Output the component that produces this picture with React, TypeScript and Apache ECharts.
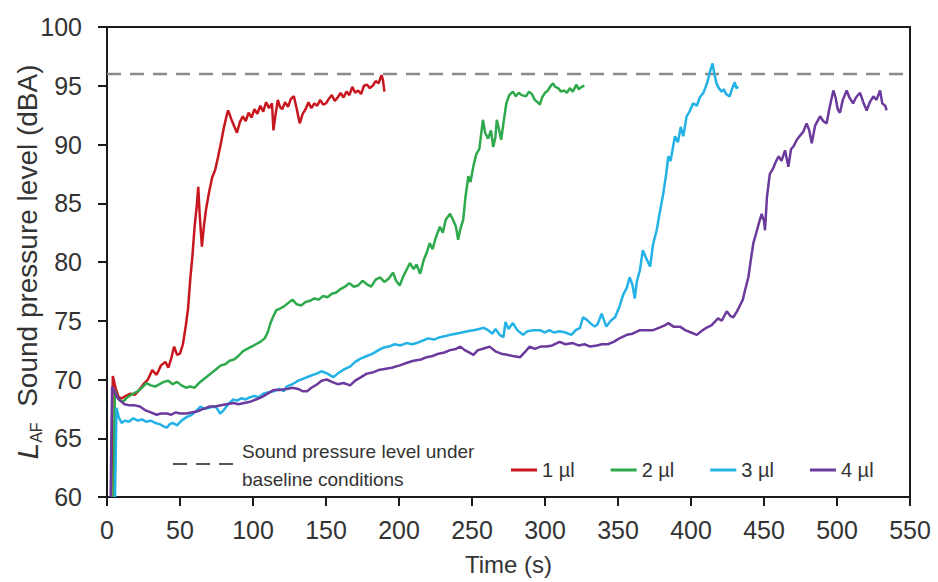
import React, { useEffect, useRef } from "react";
import * as echarts from "echarts";

const seriesNames = ["1 µl", "2 µl", "3 µl", "4 µl"];
const seriesColors = ["#c8161e", "#2eaa4c", "#23b1e6", "#6b3a9c"];
const baselineLevel = 96;
const baselineLabel = ["Sound pressure level under", "baseline conditions"];

const red1: [number, number][] = [[3,60],[3.5,66],[4,70.3],[6,69.2],[8,68.5],[10,68.4],[13,68.6],[16,68.8],[19,68.7],[22,69.1],[25,69.6],[28,70.0],[31,70.8],[34,70.4],[37,71.2],[40,71.5],[42,71.0],[44,71.8],[46,72.8],[48,72.1],[50,72.2],[52,73.0],[54,74.6],[55.5,76.0],[57,78.5],[58.5,80.5],[60,83.0],[61.5,84.8],[62.5,86.4],[63.5,84.0],[65,81.3],[66.5,83.2],[68,84.6],[70,86.0],[72,87.2],[74,87.8],[76,88.9],[78,90.1],[80,91.4],[82,92.5],[83,92.9],[85,92.2],[87,91.6],[89,91.0],[91,91.9],[93,92.4],[95,92.0],[97,92.7],[99,92.3],[101,93.0],[103,92.6],[105,93.3],[107,92.8],[109,93.6],[111,93.1],[113,93.5],[114,91.2],[115.5,92.6],[117,93.8],[118.5,93.2],[120,93.0],[122,93.6],[124,93.2],[126,93.9],[128,94.1],[130,93.0],[132,91.8],[134,92.6],[136,93.0],[138,93.6],[140,93.1],[142,93.5],[144,93.3],[146,93.8],[148,93.4],[150,93.5],[152,93.9],[154,94.2],[156,93.7],[158,94.0],[160,94.4],[162,94.0],[164,94.5],[166,94.2],[168,94.9],[170,94.4],[172,94.6],[174,94.3],[176,95.0],[178,95.1],[180,94.8],[182,95.0],[184,95.4],[186,95.2],[188,95.9],[189,95.5],[190,94.5]];

const green2: [number, number][] = [[4.5,60],[5,66],[5.5,69.0],[8,68.3],[11,68.1],[14,68.5],[18,68.8],[21,69.0],[24,69.3],[27,69.7],[30,69.5],[33,69.4],[36,69.6],[39,69.8],[42,69.9],[45,69.6],[48,69.8],[51,69.5],[54,69.3],[57,69.4],[60,69.3],[63,69.7],[66,70.0],[69,70.3],[72,70.6],[75,70.9],[78,71.2],[81,71.3],[84,71.6],[87,71.7],[90,72.0],[93,72.4],[96,72.6],[99,72.8],[102,73.0],[105,73.2],[108,73.5],[110,74.0],[112,74.8],[114,75.4],[116,75.9],[118,76.0],[121,76.2],[124,76.5],[127,76.8],[130,76.4],[133,76.3],[136,76.6],[139,76.7],[142,76.9],[145,76.8],[148,77.1],[151,77.0],[154,77.3],[157,77.4],[160,77.7],[163,77.9],[166,78.2],[169,77.9],[172,78.0],[175,78.4],[178,78.1],[181,77.9],[184,78.5],[187,78.7],[190,78.3],[193,78.6],[196,79.1],[198,78.4],[200.5,78.0],[203,78.8],[205,79.3],[207.5,79.9],[210,79.4],[212,79.8],[214.5,79.0],[217,80.2],[219,80.8],[221,81.6],[223,81.1],[225,82.0],[228,83.0],[230,82.5],[232,83.6],[235,84.1],[237,83.6],[239,83.0],[240.5,81.9],[242,82.8],[244,83.6],[245.5,85.5],[247.5,87.3],[249,86.8],[251,88.2],[253,89.2],[255,89.6],[257.5,92.1],[259,91.0],[261,90.5],[263,91.2],[264.5,89.8],[266,90.6],[267,92.1],[268.5,91.3],[270,90.4],[271.5,91.8],[273.5,93.5],[275.5,94.2],[278,94.5],[280,94.1],[282,94.4],[284,94.2],[287,94.1],[289,94.5],[291,94.3],[293,93.8],[295,93.6],[296.5,93.4],[298,94.0],[300,94.4],[302,94.6],[304,95.0],[305.5,95.2],[307,94.9],[309,94.8],[311,94.5],[313,94.6],[315,94.4],[317,94.8],[319,94.5],[321.5,95.1],[323,94.7],[325,94.9],[327,95.0]];

const blue3: [number, number][] = [[5.5,60],[6,64],[6.5,67.6],[8,66.8],[10,66.3],[12,66.5],[15,66.4],[18,66.7],[21,66.5],[24,66.6],[27,66.4],[30,66.5],[33,66.3],[36,66.2],[39,66.0],[41,65.9],[43,66.2],[45,66.3],[48,66.1],[51,66.5],[54.5,66.8],[58,67.0],[61,67.3],[64,67.7],[67,67.5],[70,67.6],[73,67.7],[75,67.6],[77.5,67.1],[80,67.4],[83,67.9],[86.5,68.3],[89,68.2],[92,68.4],[95,68.3],[98,68.5],[101,68.6],[104,68.5],[107,68.8],[110,68.9],[114,69.0],[118,69.2],[121,69.0],[123,69.4],[127,69.6],[131,69.9],[135,70.1],[139,70.3],[143.5,70.5],[147,70.7],[151,70.5],[155,70.2],[159,70.6],[163,70.9],[166.5,71.1],[170,71.5],[174,71.8],[178,72.0],[182,72.2],[186,72.5],[189,72.7],[193,72.8],[197,73.0],[201,72.9],[205,73.1],[209,73.0],[212,73.1],[216,73.3],[220,73.5],[224,73.4],[228,73.6],[232,73.7],[235,73.8],[239,73.9],[243,74.0],[247,74.1],[251,74.2],[255,74.3],[258,74.4],[261,74.2],[264,73.9],[266,74.3],[269,73.8],[271.5,73.6],[273,74.9],[275,74.3],[278,74.8],[281,74.2],[285,73.8],[288,74.1],[292,74.2],[296.5,74.2],[300,74.0],[303,74.2],[306,74.0],[310,74.1],[314,74.0],[318,73.8],[321,74.2],[324,74.4],[326,75.3],[328.5,75.1],[331,74.8],[334,74.5],[336,74.7],[338.8,75.6],[342,74.5],[345,75.0],[348,75.3],[349,75.6],[351,76.2],[353.5,77.2],[356,77.8],[358,78.7],[360,78.0],[361.5,76.9],[363,78.4],[365,79.3],[367,81.0],[369,80.4],[372,79.6],[374,81.5],[376.5,82.7],[378,83.8],[381,85.8],[383,87.5],[384.5,89.0],[386,88.6],[389,90.7],[391,90.2],[393,91.5],[394.7,90.7],[397,92.4],[399,92.8],[401.5,93.5],[404,93.3],[406,94.0],[408.5,94.4],[411,95.2],[413,96.2],[414.8,96.9],[416,96.0],[417.5,95.2],[419,94.8],[421,94.5],[422.5,94.7],[424,94.3],[426.5,94.1],[428,94.7],[430,95.3],[431,94.8],[432.5,94.9]];

const purple4: [number, number][] = [[2.5,60],[3,65],[3.5,69.4],[5,69.0],[7,68.5],[9,68.2],[12,67.9],[15.5,67.8],[19,67.8],[22.5,67.7],[26,67.4],[30,67.2],[34,67.0],[37,67.1],[41,67.1],[44,67.0],[47,67.2],[50,67.1],[54.5,67.1],[58,67.2],[62,67.3],[66,67.5],[70.5,67.7],[74,67.7],[78,67.8],[82,67.9],[86.5,68.0],[90,67.9],[94,68.0],[98,68.1],[102,68.3],[106,68.5],[110,68.8],[114,69.1],[118,69.1],[123,69.2],[127,69.3],[131,69.2],[134,69.0],[137,69.0],[140,69.3],[144,69.6],[147,69.9],[150.5,70.0],[154,69.8],[158,69.6],[162,69.7],[166.5,69.5],[170,69.9],[174,70.2],[178,70.5],[182,70.6],[186,70.8],[190,70.9],[195,71.0],[200.5,71.2],[205,71.4],[210,71.6],[215,71.7],[219,71.9],[223,72.0],[227,72.2],[231,72.3],[235,72.5],[239,72.6],[242,72.8],[245,72.5],[248,72.3],[251,72.1],[254,72.5],[257,72.6],[262,72.8],[266,72.4],[270,72.2],[274,72.1],[278,72.0],[283,71.9],[286,72.3],[289.5,72.8],[293,72.6],[297,72.8],[301,72.8],[305,72.9],[310,73.2],[314,73.0],[319,73.1],[323,72.9],[327,73.0],[331,72.8],[335.5,72.9],[339,73.0],[343,73.0],[347,73.2],[351,73.5],[356,73.8],[360,73.9],[365,74.2],[370,74.2],[374,74.2],[378,74.4],[382,74.6],[384.5,74.8],[388,74.5],[392.5,74.5],[396,74.2],[400,74.0],[404,73.8],[407,74.1],[410.5,74.4],[414,74.6],[418.5,75.2],[421,75.0],[424.5,75.8],[427,75.4],[429,75.3],[431.5,75.8],[433.5,76.3],[435.5,76.8],[437,77.6],[439.3,78.7],[441,80.2],[442.7,81.6],[444.5,82.4],[446.5,83.3],[448.4,84.1],[450,83.5],[450.7,82.7],[452,85.5],[454,87.5],[456,87.9],[458,88.5],[460,89.0],[462,88.6],[464.4,89.5],[466.7,88.1],[468.5,89.6],[470.5,89.9],[472.5,90.4],[475,90.8],[477,91.1],[479.2,91.8],[481,91.2],[482.7,90.1],[485,91.6],[488.4,92.4],[490.5,92.0],[492.9,91.8],[495,93.2],[497.5,94.6],[499,94.0],[500.5,93.0],[502,92.7],[504,93.8],[506.6,94.6],[508.5,94.0],[511,93.5],[513,94.0],[515.8,94.4],[518,93.6],[520.3,92.9],[522.5,93.6],[524.9,94.1],[527,93.8],[529.5,94.6],[531,93.5],[533,93.3],[534,92.9]];

const seriesData = [red1, green2, blue3, purple4];

export default function App() {
  const ref = useRef<HTMLDivElement>(null);
  useEffect(() => {
    if (!ref.current) return;
    const chart = echarts.init(ref.current, undefined, { renderer: "svg" });
    const font = "'Liberation Sans', Arial, sans-serif";
    const option: any = {
      animation: false,
      backgroundColor: "#ffffff",
      textStyle: { fontFamily: font },
      grid: {
        left: 107, right: 28, top: 27, bottom: 85,
        containLabel: false,
        outerBoundsMode: "none",
        show: true, borderColor: "#1a1a1a", borderWidth: 2, backgroundColor: "transparent",
      },
      legend: {
        data: seriesNames,
        left: 506, top: 455,
        icon: "rect", itemWidth: 26, itemHeight: 3, itemGap: 36,
        textStyle: { fontSize: 20, color: "#333", fontFamily: font },
      },
      xAxis: {
        type: "value", min: 0, max: 550, interval: 50,
        name: "Time (s)", nameLocation: "middle", nameGap: 55,
        nameMoveOverlap: false,
        nameTextStyle: { fontSize: 24, color: "#333", fontFamily: font },
        axisLine: { show: true, lineStyle: { color: "#1a1a1a", width: 2 } },
        axisTick: { show: true, length: 9, lineStyle: { color: "#1a1a1a", width: 2 } },
        axisLabel: { fontSize: 25, color: "#333", margin: 20, fontFamily: font },
        splitLine: { show: false },
      },
      yAxis: {
        type: "value", min: 60, max: 100, interval: 5,
        name: "{l|L}{s|AF}  Sound pressure level (dBA)",
        nameLocation: "middle", nameGap: 63,
        nameMoveOverlap: false,
        nameTextStyle: {
          fontSize: 28, color: "#333", fontFamily: font, lineHeight: 34,
          rich: {
            l: { fontSize: 30, fontStyle: "italic", color: "#333", fontFamily: font, lineHeight: 34 },
            s: { fontSize: 16, color: "#333", fontFamily: font, verticalAlign: "bottom", lineHeight: 16 },
          },
        },
        axisLine: { show: true, lineStyle: { color: "#1a1a1a", width: 2 } },
        axisTick: { show: true, length: 9, lineStyle: { color: "#1a1a1a", width: 2 } },
        axisLabel: { fontSize: 25, color: "#333", margin: 25, fontFamily: font },
        splitLine: { show: false },
      },
      series: [
        {
          name: "baseline",
          type: "line",
          data: [[0, baselineLevel], [550, baselineLevel]],
          showSymbol: false,
          silent: true,
          lineStyle: { color: "#8a8a8a", width: 2.5, type: [14, 9] },
          z: 1,
        },
        ...seriesNames.map((name, i) => ({
          name,
          type: "line",
          data: seriesData[i],
          showSymbol: false,
          symbol: "none",
          lineStyle: { color: seriesColors[i], width: 2.5 },
          itemStyle: { color: seriesColors[i] },
          z: 2 + i,
        })),
      ],
      graphic: [
        {
          type: "line",
          shape: { x1: 173, y1: 464, x2: 234, y2: 464 },
          style: { stroke: "#555", lineWidth: 2, lineDash: [14, 9] },
        },
        {
          type: "text",
          left: 242, top: 437,
          style: {
            text: baselineLabel.join("\n"),
            fontSize: 19, lineHeight: 28, fill: "#333", fontFamily: font,
          },
        },
      ],
    };
    chart.setOption(option);
    return () => chart.dispose();
  }, []);
  return (
    <div
      ref={ref}
      style={{ position: "fixed", left: 0, top: 0, width: 938, height: 582, background: "#fff" }}
    />
  );
}
